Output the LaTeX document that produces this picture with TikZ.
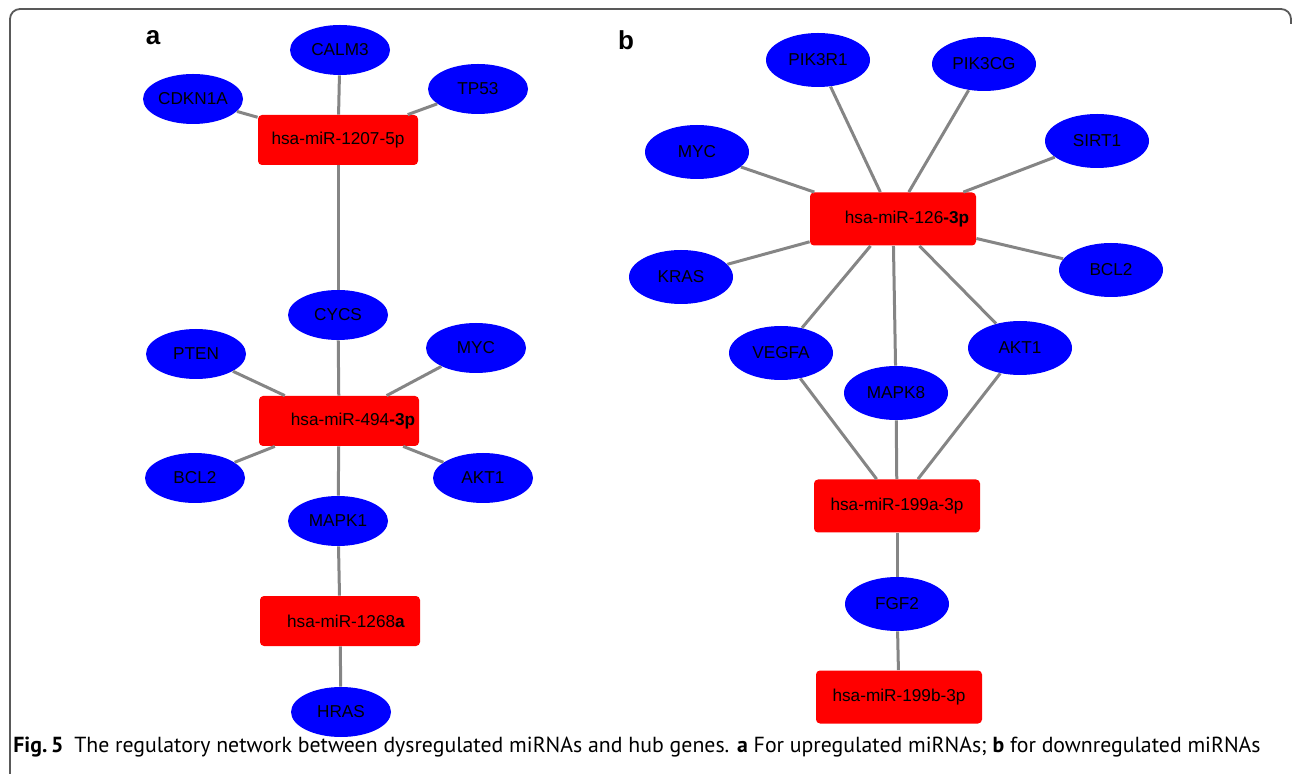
\documentclass[tikz,border=0pt]{standalone}
\usepackage{fontspec}
\setmainfont{Liberation Sans}
\newfontfamily\capfont{PT Sans}
\usetikzlibrary{shapes.geometric}
\tikzset{
gene/.style={ellipse,fill=blue,minimum width=50pt,minimum height=25pt,inner sep=0pt,font=\fontsize{8.6}{10}\selectfont},
geneb/.style={gene,minimum width=52pt,minimum height=27pt},
mirna/.style={rectangle,rounded corners=2pt,fill=red,minimum width=80pt,minimum height=25pt,inner sep=0pt,font=\fontsize{8.6}{10}\selectfont},
mirnab/.style={mirna,minimum width=83pt,minimum height=26.5pt},
link/.style={draw=black!48,line width=1.5pt},
panel/.style={inner sep=0pt,font=\fontsize{13}{15}\selectfont\bfseries},
frame/.style={draw=black!65,line width=0.9pt,rounded corners=5pt},
caption/.style={anchor=base west,inner sep=0pt,font=\capfont\fontsize{10.9}{12}\selectfont}
}

\begin{document}
\begin{tikzpicture}[x=0.5pt,y=-0.5pt]
\useasboundingbox (0,0) rectangle (1295,774);
\draw[frame] (10,774) -- (10,9) -- (1291,9) -- (1291,24);

\node[panel] (pa) at (153,38) {a};
\node[panel] (pb) at (626,40) {b};

\node[gene] (calm3) at (340,50) {CALM3};
\node[gene] (cdkn1a) at (193,99) {CDKN1A};
\node[gene] (tp53) at (478,89) {TP53};
\node[mirna] (m1207) at (338,140) {hsa-miR-1207-5p};
\node[gene] (cycs) at (338,315) {CYCS};
\node[gene] (pten) at (196,354) {PTEN};
\node[gene] (myca) at (476,348) {MYC};
\node[mirna] (m494) at (339,421) {\hspace{14pt}hsa-miR-494\textbf{-3p}};
\node[gene] (bcl2a) at (195,478) {BCL2};
\node[gene] (akt1a) at (483,478) {AKT1};
\node[gene] (mapk1) at (338,521) {MAPK1};
\node[mirna] (m1268) at (340,621) {\hspace{6pt}hsa-miR-1268\textbf{a}};
\node[gene] (hras) at (341,712) {HRAS};

\draw[link] (m1207) -- (calm3);
\draw[link] (m1207) -- (cdkn1a);
\draw[link] (m1207) -- (tp53);
\draw[link] (m1207) -- (cycs);
\draw[link] (m494) -- (cycs);
\draw[link] (m494) -- (pten);
\draw[link] (m494) -- (myca);
\draw[link] (m494) -- (bcl2a);
\draw[link] (m494) -- (akt1a);
\draw[link] (m494) -- (mapk1);
\draw[link] (m1268) -- (mapk1);
\draw[link] (m1268) -- (hras);

\node[geneb] (pik3r1) at (818,60) {PIK3R1};
\node[geneb] (pik3cg) at (984,64) {PIK3CG};
\node[geneb] (mycb) at (697,152) {MYC};
\node[geneb] (sirt1) at (1097,141) {SIRT1};
\node[mirnab] (m126) at (893,219) {\hspace{14pt}hsa-miR-126\textbf{-3p}};
\node[geneb] (kras) at (681,277) {KRAS};
\node[geneb] (bcl2b) at (1111,270) {BCL2};
\node[geneb] (vegfa) at (781,353) {VEGFA};
\node[geneb] (akt1b) at (1020,348) {AKT1};
\node[geneb] (mapk8) at (896,393) {MAPK8};
\node[mirnab] (m199a) at (897,506) {hsa-miR-199a-3p};
\node[geneb] (fgf2) at (897,604) {FGF2};
\node[mirnab] (m199b) at (899,697) {hsa-miR-199b-3p};

\draw[link] (m126) -- (pik3r1);
\draw[link] (m126) -- (pik3cg);
\draw[link] (m126) -- (mycb);
\draw[link] (m126) -- (sirt1);
\draw[link] (m126) -- (kras);
\draw[link] (m126) -- (bcl2b);
\draw[link] (m126) -- (vegfa);
\draw[link] (m126) -- (mapk8);
\draw[link] (m126) -- (akt1b);
\draw[link] (m199a) -- (vegfa);
\draw[link] (m199a) -- (mapk8);
\draw[link] (m199a) -- (akt1b);
\draw[link] (m199a) -- (fgf2);
\draw[link] (m199b) -- (fgf2);

\node[caption] (cap) at (13,752) {\textbf{Fig.\,5}\enspace The regulatory network between dysregulated miRNAs and hub genes. \textbf{a} For upregulated miRNAs; \textbf{b} for downregulated miRNAs};
\end{tikzpicture}
\end{document}
